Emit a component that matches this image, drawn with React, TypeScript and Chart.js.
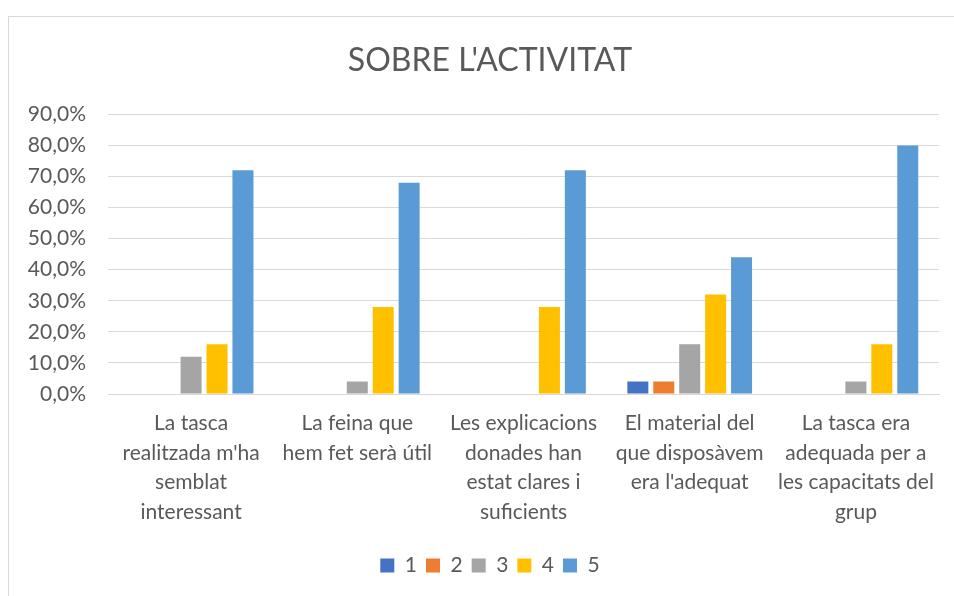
import React, { useEffect, useRef } from "react";
import { Chart, registerables } from "chart.js";

Chart.register(...registerables);

const title = "SOBRE L'ACTIVITAT";
const categories: string[][] = [
  ["La tasca", "realitzada m'ha", "semblat", "interessant"],
  ["La feina que", "hem fet serà útil"],
  ["Les explicacions", "donades han", "estat clares i", "suficients"],
  ["El material del", "que disposàvem", "era l'adequat"],
  ["La tasca era", "adequada per a", "les capacitats del", "grup"],
];
const seriesNames = ["1", "2", "3", "4", "5"];
const s1 = [0, 0, 0, 4, 0];
const s2 = [0, 0, 0, 4, 0];
const s3 = [12, 4, 0, 16, 4];
const s4 = [16, 28, 28, 32, 16];
const s5 = [72, 68, 72, 44, 80];
const colors = ["#4472C4", "#ED7D31", "#A5A5A5", "#FFC000", "#5B9BD5"];

const FONT = "Lato, 'Open Sans', sans-serif";
const TEXT = "#595959";
const GRID = "#D9D9D9";

export default function App() {
  const ref = useRef<HTMLCanvasElement | null>(null);
  useEffect(() => {
    if (!ref.current) return;
    const values = [s1, s2, s3, s4, s5];
    const chart = new Chart(ref.current, {
      type: "bar",
      data: {
        labels: categories,
        datasets: values.map((v, i) => ({
          label: seriesNames[i],
          data: v,
          backgroundColor: colors[i],
          borderWidth: 0,
          categoryPercentage: 0.78,
          barPercentage: 0.81,
        })),
      },
      options: {
        animation: false,
        responsive: false,
        maintainAspectRatio: false,
        layout: { padding: { left: 0, right: 15, top: 10, bottom: 10 } },
        plugins: {
          title: {
            display: true,
            text: title,
            color: TEXT,
            font: { family: FONT, size: 32, weight: "normal" },
            padding: { top: 14, bottom: 35 },
          },
          legend: {
            position: "bottom",
            labels: {
              color: TEXT,
              font: { family: FONT, size: 21 },
              boxWidth: 14,
              boxHeight: 14,
              padding: 9,
            },
          },
          tooltip: { enabled: false },
        },
        scales: {
          x: {
            grid: { display: false, drawTicks: false },
            border: { display: true, color: GRID, width: 1 },
            ticks: {
              color: TEXT,
              font: { family: FONT, size: 21, lineHeight: 1.4 },
              padding: 15,
              maxRotation: 0,
              autoSkip: false,
            },
            afterFit: (s: any) => {
              s.height = 152;
            },
          },
          y: {
            min: 0,
            max: 90,
            grid: { color: GRID, drawTicks: false, lineWidth: 1 },
            border: { display: false },
            ticks: {
              stepSize: 10,
              color: TEXT,
              font: { family: FONT, size: 21 },
              padding: 22,
              callback: (v: any) => Number(v).toFixed(1).replace(".", ",") + "%",
            },
            afterFit: (s: any) => {
              s.width = 99;
            },
          },
          yRight: {
            position: "right",
            display: true,
            grid: { display: false, drawTicks: false },
            border: { display: false },
            ticks: { display: false },
            afterFit: (s: any) => {
              s.width = 32;
            },
          },
        },
      },
    });
    return () => chart.destroy();
  }, []);
  return (
    <div
      style={{
        position: "fixed",
        left: 8,
        top: 16,
        right: 0,
        bottom: 0,
        overflow: "hidden",
        borderLeft: "1px solid #D9D9D9",
        borderTop: "1px solid #D9D9D9",
        background: "#fff",
      }}
    >
      <canvas ref={ref} width={977} height={579} style={{ display: "block" }} />
    </div>
  );
}
